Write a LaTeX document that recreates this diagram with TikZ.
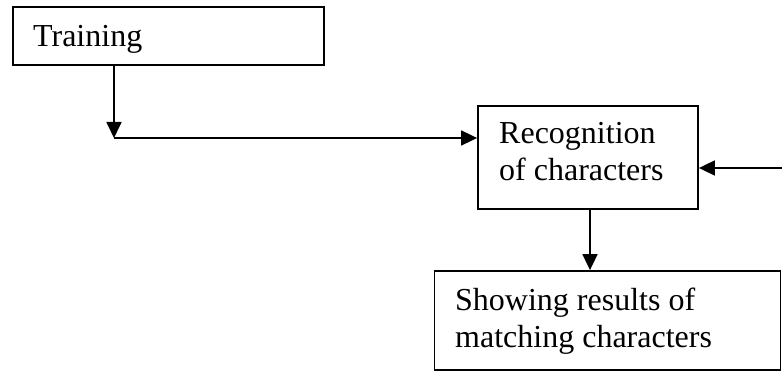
\documentclass[tikz,border=0pt]{standalone}
\usepackage{fontspec}
\setmainfont{Liberation Serif}
\usetikzlibrary{arrows.meta}
\begin{document}
\begin{tikzpicture}[x=1pt,y=-1pt,
  box/.style={draw,line width=1.8pt,rectangle,inner sep=0pt},
  lbl/.style={anchor=base west,inner sep=0pt,align=left,font=\fontsize{32}{37}\selectfont},
  conn/.style={line width=1.8pt,-{Triangle[length=16pt,width=15pt]}},
  seg/.style={line width=1.8pt}]
\useasboundingbox (0,0) rectangle (782,371);
\node[box,minimum width=311pt,minimum height=58pt] (train) at (168.5,36) {};
\node[box,minimum width=220pt,minimum height=103pt] (recog) at (588,157.5) {};
\node[box,minimum width=346pt,minimum height=99pt] (show) at (607.5,320.5) {};
\node[lbl] (t1) at (33,47) {Training};
\node[lbl] (t2) at (499,181) {Recognition\\of characters};
\node[lbl] (t3) at (455,348) {Showing results of\\matching characters};
\coordinate (bend) at (114,138);
\coordinate (free) at (782,168);
\draw[conn] (train.south -| bend) -- (bend);
\draw[conn] (bend) -- (bend -| recog.west);
\draw[conn] (free) -- (free -| recog.east);
\draw[conn] (recog.south -| 590,0) -- (show.north -| 590,0);
\end{tikzpicture}
\end{document}
